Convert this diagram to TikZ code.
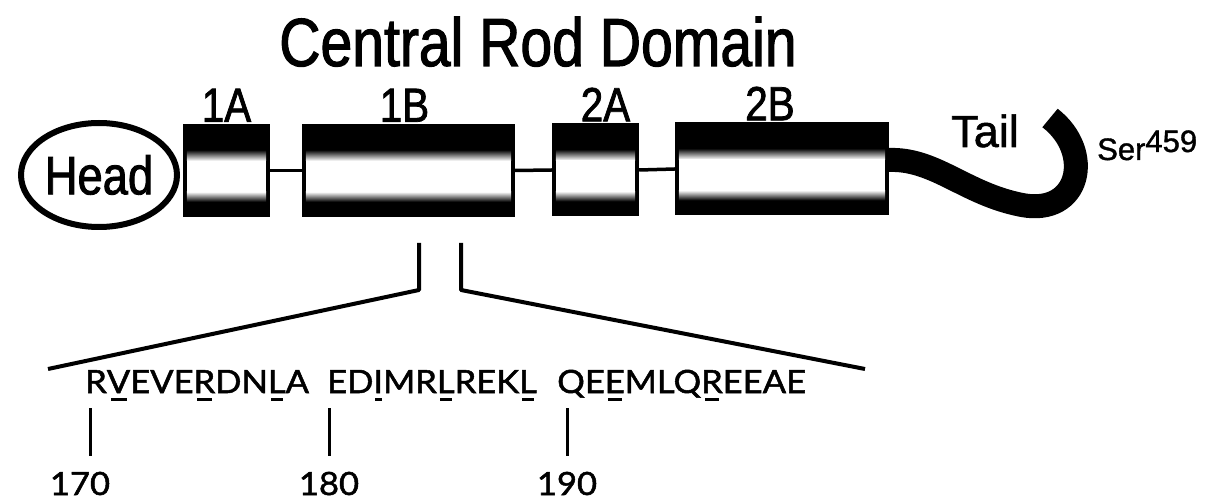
\documentclass[tikz,border=0pt]{standalone}
\usepackage{fontspec}
\setmainfont{Liberation Sans}[FakeBold=1.2]
\newfontfamily\condsans[FakeStretch=0.84, FakeBold=1.6]{Liberation Sans}
\newfontfamily\seqfont[FakeStretch=1.08, FakeBold=1.6]{Lato}
\usepackage{tikz}
\usetikzlibrary{shapes.geometric, positioning, calc}

\newsavebox\resbox
\newcommand{\resmark}[1]{\sbox\resbox{#1}\rlap{\hspace{.18\wd\resbox}\rule[-8pt]{.66\wd\resbox}{3pt}}#1}

\begin{document}
\begin{tikzpicture}[x=1pt, y=-1pt,
    rod/.style={rectangle, fill=black, inner sep=0pt, minimum height=93pt},
    link/.style={line width=3.5pt},
    zoomline/.style={line width=4pt, line join=round},
    tick/.style={line width=3pt},
    lbl/.style={anchor=base, inner sep=0pt, font=\condsans\fontsize{48}{48}\selectfont},
    seq/.style={anchor=base west, inner sep=0pt, font=\seqfont\fontsize{32}{32}\selectfont},
    num/.style={anchor=base, inner sep=0pt, font=\seqfont\fontsize{32}{32}\selectfont}]
    \useasboundingbox (0,0) rectangle (1212,502);

    \node[anchor=base, inner sep=0pt, font=\condsans\fontsize{68}{68}\selectfont] (title) at (538,66) {Central Rod Domain};

    % head and rod segments
    \node[ellipse, draw, line width=6pt, inner sep=0pt, minimum width=156pt, minimum height=104pt,
          font=\condsans\fontsize{54}{54}\selectfont] (head) at (99,175) {Head};
    \node[rod, minimum width=87pt] (s1A) at (226.5,170.5) {};
    \node[rod, minimum width=213pt] (s1B) at (408.5,170.5) {};
    \node[rod, minimum width=87pt] (s2A) at (595.5,170) {};
    \node[rod, minimum width=214pt] (s2B) at (782,169) {};

    \foreach \s in {s1A, s1B, s2A, s2B} {
      \shade[top color=black, bottom color=white] ($(\s.north west)+(4,26)$) rectangle ($(\s.north east)+(-4,37)$);
      \fill[white] ($(\s.north west)+(4,37)$) rectangle ($(\s.north east)+(-4,68)$);
      \shade[top color=white, bottom color=black] ($(\s.north west)+(4,68)$) rectangle ($(\s.north east)+(-4,78)$);
    }

    \draw[link] (s1A.east) -- (s1B.west);
    \draw[link] (s1B.east) -- (s2A.west);
    \draw[link] (s2A.east) -- (s2B.west);

    \node[lbl] (l1A) at ($(s1A.north)+(0,-2)$) {1A};
    \node[lbl] (l1B) at ($(s1B.north)+(-4,-2)$) {1B};
    \node[lbl] (l2A) at ($(s2A.north)+(10,-2)$) {2A};
    \node[lbl] (l2B) at ($(s2B.north)+(-12,-2)$) {2B};

    % tail
    \draw[line width=24pt] ($(s2B.east)+(-1,-9)$) .. controls (935,158) and (965,194) .. (1022,205)
      .. controls (1080,216) and (1094,152) .. (1050,118);
    \node[anchor=base, inner sep=0pt, font=\fontsize{45}{45}\selectfont] (tail) at (985,147) {Tail};
    \node[anchor=base west, inner sep=0pt, font=\fontsize{31}{31}\selectfont] (ser) at (1097,160) {Ser\raisebox{8pt}{459}};

    % zoom onto the sequence
    \coordinate (zl1) at (419,243);
    \coordinate (zl2) at (419,290);
    \coordinate (zl3) at (48,369);
    \coordinate (zr1) at (461,243);
    \coordinate (zr2) at (461,290);
    \coordinate (zr3) at (865,369);
    \draw[zoomline] (zl1) -- (zl2) -- (zl3);
    \draw[zoomline] (zr1) -- (zr2) -- (zr3);

    \node[seq] (g1) at (85,393) {R\resmark{V}EVE\resmark{R}DN\resmark{L}A};
    \node[seq] (g2) at (327,393) {ED\resmark{I}MR\resmark{L}REK\resmark{L}};
    \node[seq] (g3) at (557,393) {QE\resmark{E}MLQ\resmark{R}EEAE};

    \node[num] (n170) at (80,495) {170};
    \node[num] (n180) at (329,495) {180};
    \node[num] (n190) at (567,495) {190};
    \draw[tick] ([xshift=10pt, yshift=16pt]n170.north) -- ++(0,-48);
    \draw[tick] ([yshift=16pt]n180.north) -- ++(0,-48);
    \draw[tick] ([yshift=16pt]n190.north) -- ++(0,-48);
  \end{tikzpicture}
\end{document}
